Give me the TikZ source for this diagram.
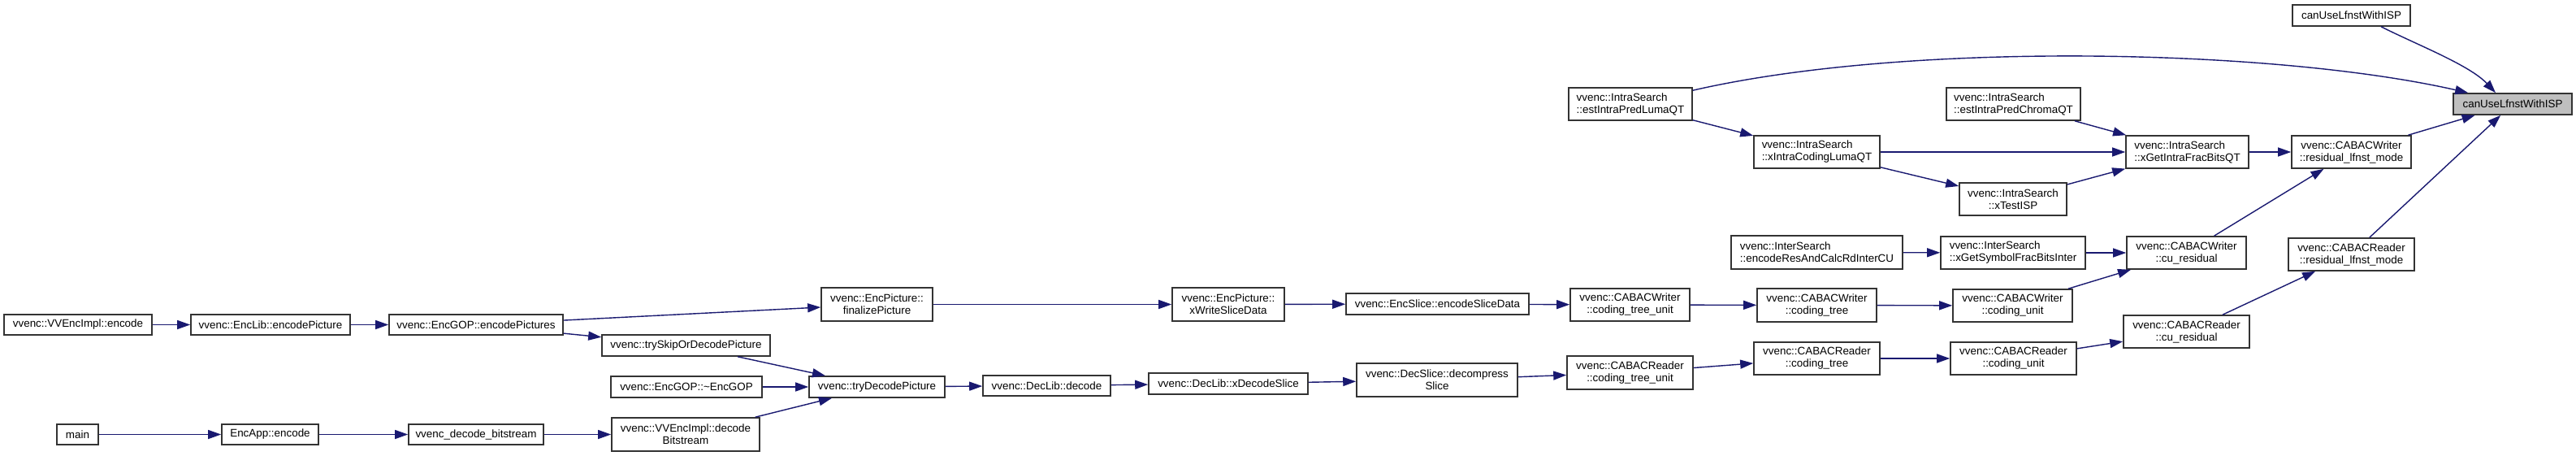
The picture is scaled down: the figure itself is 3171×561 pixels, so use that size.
\documentclass[tikz,border=0pt]{standalone}
\usepackage{fontspec}
\setmainfont{Liberation Sans}
\usetikzlibrary{arrows.meta,calc}
\definecolor{edgeblue}{HTML}{191970}
\definecolor{rootgray}{HTML}{BFBFBF}
\tikzset{
  fnbox/.style={draw=black!80, line width=1.6pt, fill=white, inner sep=0pt, align=center,
    font=\fontsize{13.4}{15}\selectfont, text=black},
  fnleft/.style={fnbox, align=left},
  rootbox/.style={fnbox, fill=rootgray},
  sz/.style 2 args={minimum width=#1pt, minimum height=#2pt},
  call/.style={draw=edgeblue, line width=1.4pt, -{Triangle[length=16pt,width=11pt]}}
}
\begin{document}
\begin{tikzpicture}[x=1pt,y=-1pt]
\useasboundingbox (0,0) rectangle (3171,561);
% nodes
\node[fnbox, sz={182}{25}] (veienc) at (96,399.5) {vvenc::VVEncImpl::encode};
\node[fnbox, sz={196}{25}] (elenc) at (333,399.5) {vvenc::EncLib::encodePicture};
\node[fnbox, sz={214}{25}] (egopenc) at (586,399.5) {vvenc::EncGOP::encodePictures};
\node[fnbox, sz={51}{25}] (main) at (95.5,534.5) {main};
\node[fnbox, sz={119}{25}] (encapp) at (332.5,534.5) {EncApp::encode};
\node[fnbox, sz={166}{25}] (vdb) at (586,534.5) {vvenc\_decode\_bitstream};
\node[fnbox, sz={207}{26}] (tryskip) at (844.5,425) {vvenc::trySkipOrDecodePicture};
\node[fnbox, sz={186}{26}] (egopdtor) at (845,476) {vvenc::EncGOP::\textasciitilde EncGOP};
\node[fnbox, sz={182}{41}] (veidec) at (844,534.5) {vvenc::VVEncImpl::decode\\Bitstream};
\node[fnbox, sz={137}{41}] (finalize) at (1079.5,374.5) {vvenc::EncPicture::\\finalizePicture};
\node[fnbox, sz={167}{26}] (trydec) at (1079.5,476) {vvenc::tryDecodePicture};
\node[fnbox, sz={157}{25}] (dldec) at (1288.5,474.5) {vvenc::DecLib::decode};
\node[fnbox, sz={138}{41}] (xwrite) at (1512,374.5) {vvenc::EncPicture::\\xWriteSliceData};
\node[fnbox, sz={196}{26}] (xdecslice) at (1512,472) {vvenc::DecLib::xDecodeSlice};
\node[fnbox, sz={225}{26}] (encslice) at (1769.5,374) {vvenc::EncSlice::encodeSliceData};
\node[fnbox, sz={198}{41}] (decomp) at (1769,467.5) {vvenc::DecSlice::decompress\\Slice};
\node[fnbox, sz={147}{40}] (cwctu) at (2006.5,375) {vvenc::CABACWriter\\::coding\_tree\_unit};
\node[fnbox, sz={155}{41}] (crctu) at (2006.5,458.5) {vvenc::CABACReader\\::coding\_tree\_unit};
\node[fnleft, sz={152}{40}] (estluma) at (2007,128) {vvenc::IntraSearch\\::estIntraPredLumaQT};
\node[fnbox, sz={147}{41}] (cwct) at (2236.5,375.5) {vvenc::CABACWriter\\::coding\_tree};
\node[fnbox, sz={155}{40}] (crct) at (2236.5,441) {vvenc::CABACReader\\::coding\_tree};
\node[fnleft, sz={211}{41}] (encres) at (2236.5,310.5) {vvenc::InterSearch\\::encodeResAndCalcRdInterCU};
\node[fnleft, sz={155}{40}] (xintra) at (2236.5,187) {vvenc::IntraSearch\\::xIntraCodingLumaQT};
\node[fnleft, sz={165}{40}] (estchroma) at (2478.5,128) {vvenc::IntraSearch\\::estIntraPredChromaQT};
\node[fnbox, sz={132}{40}] (xtestisp) at (2478,245) {vvenc::IntraSearch\\::xTestISP};
\node[fnleft, sz={178}{40}] (xgetsym) at (2478,311) {vvenc::InterSearch\\::xGetSymbolFracBitsInter};
\node[fnbox, sz={147}{40}] (cwcu) at (2477.5,376) {vvenc::CABACWriter\\::coding\_unit};
\node[fnbox, sz={155}{40}] (crcu) at (2478.5,441) {vvenc::CABACReader\\::coding\_unit};
\node[fnleft, sz={151}{40}] (xgetintra) at (2692.5,187) {vvenc::IntraSearch\\::xGetIntraFracBitsQT};
\node[fnbox, sz={147}{40}] (cwcures) at (2691.5,311) {vvenc::CABACWriter\\::cu\_residual};
\node[fnbox, sz={155}{40}] (crcures) at (2691.5,408) {vvenc::CABACReader\\::cu\_residual};
\node[fnbox, sz={147}{40}] (cwrlm) at (2894.5,187) {vvenc::CABACWriter\\::residual\_lfnst\_mode};
\node[fnbox, sz={155}{40}] (crrlm) at (2894.5,313) {vvenc::CABACReader\\::residual\_lfnst\_mode};
\node[fnbox, sz={145}{26}] (canuse) at (2894.5,19) {canUseLfnstWithISP};
\node[rootbox, sz={146}{26}] (root) at (3093,128) {canUseLfnstWithISP};
% edges
\draw[call] (veienc) -- (elenc);
\draw[call] (elenc) -- (egopenc);
\draw[call] (egopenc) -- (finalize);
\draw[call] (egopenc) -- (tryskip);
\draw[call] (main) -- (encapp);
\draw[call] (encapp) -- (vdb);
\draw[call] (vdb) -- (veidec);
\draw[call] (tryskip) -- (trydec);
\draw[call] (egopdtor) -- (trydec);
\draw[call] (veidec) -- (trydec);
\draw[call] (trydec) -- (dldec);
\draw[call] (dldec) -- (xdecslice);
\draw[call] (xdecslice) -- (decomp);
\draw[call] (decomp) -- (crctu);
\draw[call] (crctu) -- (crct);
\draw[call] (crct) -- (crcu);
\draw[call] (crcu) -- (crcures);
\draw[call] (crcures) -- (crrlm);
\draw[call] (crrlm) -- (root);
\draw[call] (finalize) -- (xwrite);
\draw[call] (xwrite) -- (encslice);
\draw[call] (encslice) -- (cwctu);
\draw[call] (cwctu) -- (cwct);
\draw[call] (cwct) -- (cwcu);
\draw[call] (cwcu) -- (cwcures);
\draw[call] (encres) -- (xgetsym);
\draw[call] (xgetsym) -- (cwcures);
\draw[call] (cwcures) -- (cwrlm);
\draw[call] (cwrlm) -- (root);
\draw[call] (xgetintra) -- (cwrlm);
\draw[call] (estchroma) -- (xgetintra);
\draw[call] (xintra) -- (xgetintra);
\draw[call] (xintra) -- (xtestisp);
\draw[call] (xtestisp) -- (xgetintra);
\draw[call] (estluma) -- (xintra);
\draw[call] ($(estluma.north east)+(0,4)$) .. controls (2350,50) and (2800,60) .. ($(root.north west)+(19,0)$);
\draw[call] ($(canuse.south)+(36.5,0)$) .. controls (2975,55) and (3040,80) .. ($(root.north)+(-21,0)$);
\end{tikzpicture}
\end{document}
